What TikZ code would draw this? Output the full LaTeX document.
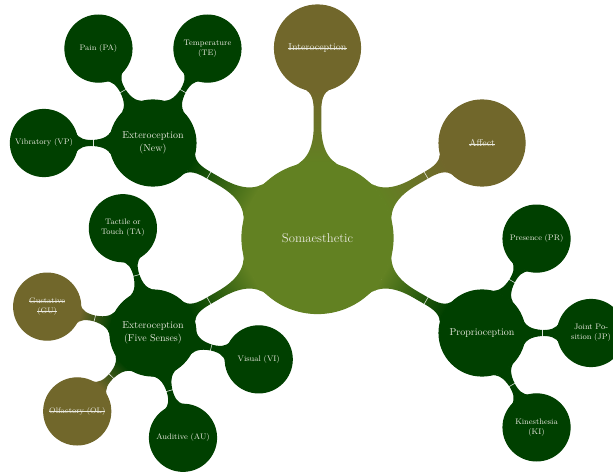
\documentclass[tikz,border=0pt]{standalone}
\usetikzlibrary{mindmap,backgrounds,calc}
\definecolor{rootc}{RGB}{98,129,34}
\definecolor{darkc}{RGB}{0,64,0}
\definecolor{olivec}{RGB}{113,103,43}
\definecolor{txtc}{RGB}{232,232,222}
\newcommand{\mystrike}[1]{\leavevmode\setbox0\hbox{#1}\rlap{\vrule height 0.62ex depth -0.52ex width \wd0}\box0}
\tikzset{
  rootnode/.style={concept, concept color=rootc, minimum size=151pt, text width=90pt, inner sep=1pt, align=center, text=txtc, font=\fontsize{12.7}{15}\selectfont},
  lonenode/.style={concept, minimum size=86pt, text width=70pt, inner sep=1pt, align=center, text=txtc, font=\fontsize{10}{13}\selectfont},
  ltwonode/.style={concept, minimum size=67pt, text width=62pt, inner sep=1pt, align=center, text=txtc, font=\fontsize{8}{10}\selectfont},
  darknode/.style={concept color=darkc},
  olivenode/.style={concept color=olivec},
  bigbar/.style={line width=10pt},
  smallbar/.style={line width=8pt},
  seam/.style={draw=white, line width=0.6pt, opacity=0.85},
}
% thin seam mark across a connection: parent, child, fraction, half length
\newcommand{\seamtick}[4]{%
  \coordinate (s-#1-#2) at ($(#1)!#3!(#2)$);
  \draw[seam] ($(s-#1-#2)!#4!90:(#2)$) -- ($(s-#1-#2)!#4!-90:(#2)$);}
\begin{document}
\begin{tikzpicture}[mindmap, x=1pt, y=1pt]
\useasboundingbox (0,0) rectangle (613,472);
% root and level 1
\node[rootnode] (root) at (317.5,234) {Somaesthetic};
\node[lonenode, olivenode] (intero) at ($(root)+(90:190)$) {\mystrike{Interoception}};
\node[lonenode, olivenode] (affect) at ($(root)+(30:190)$) {\mystrike{Affect}};
\node[lonenode, darknode] (proprio) at ($(root)+(-30:190)$) {Proprioception};
\node[lonenode, darknode] (extnew) at ($(root)+(150:190)$) {Exteroception\\(New)};
\node[lonenode, darknode] (extfive) at ($(root)+(210:190)$) {Exteroception\\(Five Senses)};
% level 2: Exteroception (New)
\node[ltwonode, darknode] (temp) at ($(extnew)+(60:109)$) {Temperature\\(TE)};
\node[ltwonode, darknode] (pain) at ($(extnew)+(120:109)$) {Pain (PA)};
\node[ltwonode, darknode] (vib) at ($(extnew)+(180:109)$) {Vibratory (VP)};
% level 2: Exteroception (Five Senses)
\node[ltwonode, darknode] (tact) at ($(extfive)+(106:109)$) {Tactile or\\Touch (TA)};
\node[ltwonode, olivenode] (gust) at ($(extfive)+(166:109)$) {\mystrike{Gustative}\\\mystrike{(GU)}};
\node[ltwonode, olivenode] (olf) at ($(extfive)+(226:109)$) {\mystrike{Olfactory (OL)}};
\node[ltwonode, darknode] (aud) at ($(extfive)+(286:109)$) {Auditive (AU)};
\node[ltwonode, darknode] (vis) at ($(extfive)+(346:109)$) {Visual (VI)};
% level 2: Proprioception
\node[ltwonode, darknode] (pres) at ($(proprio)+(60:109)$) {Presence (PR)};
\node[ltwonode, darknode] (joint) at ($(proprio)+(0:109)$) {Joint Po-\\sition (JP)};
\node[ltwonode, darknode] (kin) at ($(proprio)+(-60:109)$) {Kinesthesia\\(KI)};
% connections
\begin{scope}[on background layer]
\path[bigbar] (root) to[circle connection bar switch color=from (rootc) to (olivec)] (intero);
\path[bigbar] (root) to[circle connection bar switch color=from (rootc) to (olivec)] (affect);
\path[bigbar] (root) to[circle connection bar switch color=from (rootc) to (darkc)] (proprio);
\path[bigbar] (root) to[circle connection bar switch color=from (rootc) to (darkc)] (extnew);
\path[bigbar] (root) to[circle connection bar switch color=from (rootc) to (darkc)] (extfive);
\path[smallbar] (extnew) to[circle connection bar switch color=from (darkc) to (darkc)] (temp);
\path[smallbar] (extnew) to[circle connection bar switch color=from (darkc) to (darkc)] (pain);
\path[smallbar] (extnew) to[circle connection bar switch color=from (darkc) to (darkc)] (vib);
\path[smallbar] (extfive) to[circle connection bar switch color=from (darkc) to (darkc)] (tact);
\path[smallbar] (extfive) to[circle connection bar switch color=from (darkc) to (olivec)] (gust);
\path[smallbar] (extfive) to[circle connection bar switch color=from (darkc) to (olivec)] (olf);
\path[smallbar] (extfive) to[circle connection bar switch color=from (darkc) to (darkc)] (aud);
\path[smallbar] (extfive) to[circle connection bar switch color=from (darkc) to (darkc)] (vis);
\path[smallbar] (proprio) to[circle connection bar switch color=from (darkc) to (darkc)] (pres);
\path[smallbar] (proprio) to[circle connection bar switch color=from (darkc) to (darkc)] (joint);
\path[smallbar] (proprio) to[circle connection bar switch color=from (darkc) to (darkc)] (kin);
\end{scope}
% seam marks
\seamtick{root}{affect}{0.66}{4.5pt}
\seamtick{root}{proprio}{0.66}{4.5pt}
\seamtick{root}{extnew}{0.66}{4.5pt}
\seamtick{root}{extfive}{0.66}{4.5pt}
\seamtick{extnew}{temp}{0.55}{4pt}
\seamtick{extnew}{pain}{0.55}{4pt}
\seamtick{extnew}{vib}{0.55}{4pt}
\seamtick{extfive}{tact}{0.55}{4pt}
\seamtick{extfive}{gust}{0.55}{4pt}
\seamtick{extfive}{olf}{0.55}{4pt}
\seamtick{extfive}{aud}{0.55}{4pt}
\seamtick{extfive}{vis}{0.55}{4pt}
\seamtick{proprio}{pres}{0.55}{4pt}
\seamtick{proprio}{joint}{0.55}{4pt}
\seamtick{proprio}{kin}{0.55}{4pt}
\end{tikzpicture}
\end{document}
